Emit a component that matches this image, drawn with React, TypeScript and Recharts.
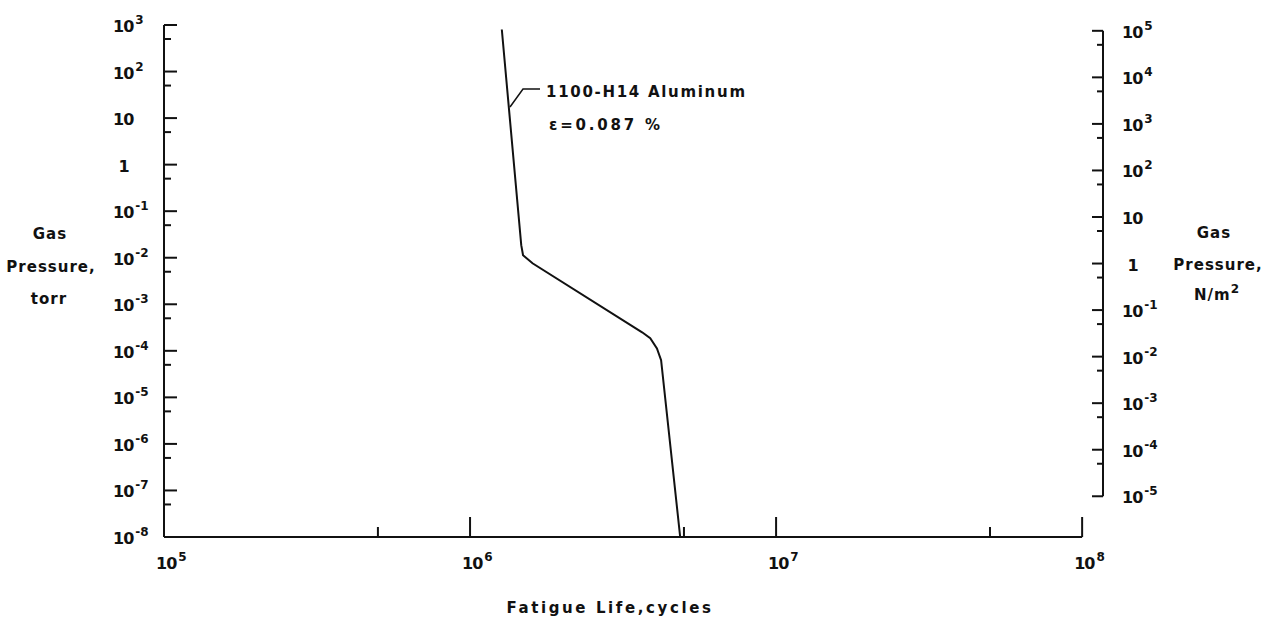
import { LineChart, Line, XAxis, YAxis, ReferenceLine } from 'recharts'

// fatigue life vs gas pressure, 1100-H14 aluminium
const cycles = [1.27e6, 1.47e6, 1.49e6, 1.6e6, 3.65e6, 3.88e6, 4.08e6, 4.21e6, 4.86e6]
const torr = [800, 1.86e-2, 1.13e-2, 7.6e-3, 2.5e-4, 1.86e-4, 1.13e-4, 6.3e-5, 1e-8]

const xTicks = [1e5, 5e5, 1e6, 5e6, 1e7, 5e7, 1e8]
const torrTicks = [
  1e-8, 5e-8, 1e-7, 5e-7, 1e-6, 5e-6, 1e-5, 5e-5, 1e-4, 5e-4, 1e-3, 5e-3,
  1e-2, 5e-2, 1e-1, 5e-1, 1, 5, 10, 50, 100, 500, 1000,
]
const paTicks = [
  1e-5, 5e-5, 1e-4, 5e-4, 1e-3, 5e-3, 1e-2, 5e-2, 1e-1, 5e-1, 1, 5, 10, 50,
  100, 500, 1e3, 5e3, 1e4, 5e4, 1e5,
]

const TORR_TO_PA = 133.322
const X_MAX = 1.17e8

const data = cycles.map((c, i) => ({ cycles: c, torr: torr[i] }))

const FONT = 'DejaVu Sans'
const INK = '#111'

const isDecade = (v: number) => Math.abs(Math.log10(v) - Math.round(Math.log10(v))) < 1e-6

function PowLabel({ x, y, v }: { x: number; y: number; v: number }) {
  const n = Math.round(Math.log10(v))
  if (n === 0)
    return (
      <text x={x + 11} y={y} textAnchor="middle" fontFamily={FONT} fontWeight="bold" fontSize={16} fill={INK}>
        1
      </text>
    )
  return (
    <text x={x} y={y} fontFamily={FONT} fontWeight="bold" fontSize={16} letterSpacing={-1} fill={INK}>
      10
      {n !== 1 && (
        <tspan dy={-8} dx={2} fontSize={12} letterSpacing={0}>
          {n < 0 ? '-' + -n : n}
        </tspan>
      )}
    </text>
  )
}

function LeftTick(props: any) {
  const { x, y, payload } = props
  const major = isDecade(payload.value)
  return (
    <g>
      <line x1={x} x2={x + (major ? 13 : 7)} y1={y} y2={y} stroke={INK} strokeWidth={2} />
      {major && <PowLabel x={x - 51} y={y + 7} v={payload.value} />}
    </g>
  )
}

function RightTick(props: any) {
  const { x, y, payload } = props
  const major = isDecade(payload.value)
  return (
    <g>
      <line x1={x} x2={x - (major ? 11 : 6)} y1={y} y2={y} stroke={INK} strokeWidth={2} />
      {major && <PowLabel x={x + 19} y={y + 7} v={payload.value} />}
    </g>
  )
}

function BottomTick(props: any) {
  const { x, y, payload } = props
  const major = isDecade(payload.value)
  return (
    <g>
      <line x1={x} x2={x} y1={y} y2={y - (major ? 20 : 10)} stroke={INK} strokeWidth={2} />
      {major && <PowLabel x={x - 8} y={y + 32} v={payload.value} />}
    </g>
  )
}

const titleStyle = { fontFamily: FONT, fontWeight: 'bold' as const, fontSize: 15, letterSpacing: 1, fill: INK }

export default function App() {
  return (
    <div style={{ position: 'absolute', left: 0, top: 0, width: 1265, height: 617, background: '#fff' }}>
      <LineChart width={1265} height={617} data={data} margin={{ top: 25, right: 0, bottom: 0, left: 0 }}>
        <XAxis
          dataKey="cycles"
          type="number"
          scale="log"
          domain={[1e5, X_MAX]}
          allowDataOverflow
          ticks={xTicks}
          interval={0}
          height={80}
          axisLine={false}
          tickLine={false}
          tickSize={0}
          tickMargin={0}
          tick={<BottomTick />}
        />
        <YAxis
          yAxisId="left"
          type="number"
          scale="log"
          domain={[1e-8, 1e3]}
          allowDataOverflow
          ticks={torrTicks}
          interval={0}
          width={164}
          axisLine={{ stroke: INK, strokeWidth: 2 }}
          tickLine={false}
          tickSize={0}
          tickMargin={0}
          tick={<LeftTick />}
        />
        <YAxis
          yAxisId="right"
          orientation="right"
          type="number"
          scale="log"
          domain={[1e-8 * TORR_TO_PA, 1e3 * TORR_TO_PA]}
          allowDataOverflow
          ticks={paTicks}
          interval={0}
          width={162}
          axisLine={false}
          tickLine={false}
          tickSize={0}
          tickMargin={0}
          tick={<RightTick />}
        />
        <ReferenceLine
          yAxisId="left"
          segment={[
            { x: 1e5, y: 1e-8 },
            { x: 1e8, y: 1e-8 },
          ]}
          stroke={INK}
          strokeWidth={2}
          ifOverflow="visible"
        />
        <ReferenceLine
          yAxisId="right"
          segment={[
            { x: X_MAX, y: 1e-5 },
            { x: X_MAX, y: 1e5 },
          ]}
          stroke={INK}
          strokeWidth={2}
          ifOverflow="visible"
        />
        <Line
          yAxisId="left"
          dataKey="torr"
          type="linear"
          stroke={INK}
          strokeWidth={2}
          dot={false}
          isAnimationActive={false}
        />
      </LineChart>
      <svg width={1265} height={617} style={{ position: 'absolute', left: 0, top: 0, pointerEvents: 'none' }}>
        <g textAnchor="middle" {...titleStyle}>
          <text x={50} y={239}>Gas</text>
          <text x={51} y={272}>Pressure,</text>
          <text x={49} y={304}>torr</text>
          <text x={1214} y={238}>Gas</text>
          <text x={1218} y={270}>Pressure,</text>
          <text x={1217} y={300}>
            N/m<tspan dy={-7} fontSize={12}>2</tspan>
          </text>
          <text x={610} y={613} letterSpacing={2.6}>Fatigue Life,cycles</text>
        </g>
        <polyline points="510,107 523,89 540,89" fill="none" stroke={INK} strokeWidth={1.5} />
        <text x={546} y={97} {...titleStyle} letterSpacing={1.7}>1100-H14 Aluminum</text>
        <text x={549} y={130} {...titleStyle} letterSpacing={2.8}>ε=0.087 %</text>
      </svg>
    </div>
  )
}
